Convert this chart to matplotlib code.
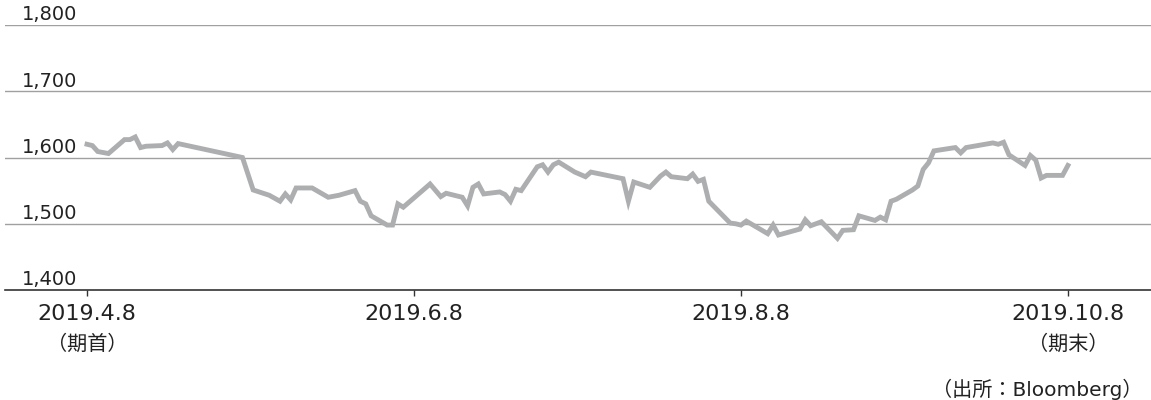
import matplotlib
matplotlib.use('Agg')
import matplotlib.pyplot as plt
import matplotlib.dates as mdates
import pandas as pd

plt.rcParams['font.family'] = ['DejaVu Sans', 'Noto Sans CJK JP']

# price line (turning points only)
dates = [
    '2019-04-08', '2019-04-09', '2019-04-10', '2019-04-12', '2019-04-15', '2019-04-16',
    '2019-04-17', '2019-04-18', '2019-04-19', '2019-04-22', '2019-04-23', '2019-04-24',
    '2019-04-25', '2019-05-07', '2019-05-09', '2019-05-12', '2019-05-14', '2019-05-15',
    '2019-05-16', '2019-05-17', '2019-05-20', '2019-05-23', '2019-05-25', '2019-05-28',
    '2019-05-29', '2019-05-30', '2019-05-31', '2019-06-03', '2019-06-04', '2019-06-05',
    '2019-06-06', '2019-06-11', '2019-06-13', '2019-06-14', '2019-06-17', '2019-06-18',
    '2019-06-19', '2019-06-20', '2019-06-21', '2019-06-24', '2019-06-25', '2019-06-26',
    '2019-06-27', '2019-06-28', '2019-07-01', '2019-07-02', '2019-07-03', '2019-07-04',
    '2019-07-05', '2019-07-08', '2019-07-10', '2019-07-11', '2019-07-17', '2019-07-18',
    '2019-07-19', '2019-07-22', '2019-07-24', '2019-07-25', '2019-07-26', '2019-07-29',
    '2019-07-30', '2019-07-31', '2019-08-01', '2019-08-02', '2019-08-06', '2019-08-07',
    '2019-08-08', '2019-08-09', '2019-08-13', '2019-08-14', '2019-08-15', '2019-08-19',
    '2019-08-20', '2019-08-21', '2019-08-23', '2019-08-26', '2019-08-27', '2019-08-29',
    '2019-08-30', '2019-09-02', '2019-09-03', '2019-09-04', '2019-09-05', '2019-09-06',
    '2019-09-09', '2019-09-10', '2019-09-11', '2019-09-12', '2019-09-13', '2019-09-17',
    '2019-09-18', '2019-09-19', '2019-09-24', '2019-09-25', '2019-09-26', '2019-09-27',
    '2019-09-30', '2019-10-01', '2019-10-02', '2019-10-03', '2019-10-04', '2019-10-07',
    '2019-10-08',
]
prices = [
    1620, 1618, 1609, 1606, 1627, 1627,
    1631, 1615, 1617, 1618, 1622, 1612,
    1621, 1600, 1551, 1543, 1534, 1545,
    1536, 1554, 1554, 1540, 1543, 1550,
    1534, 1530, 1512, 1498, 1498, 1530,
    1525, 1560, 1541, 1546, 1540, 1527,
    1555, 1560, 1545, 1548, 1544, 1534,
    1552, 1550, 1586, 1589, 1578, 1589,
    1593, 1578, 1571, 1578, 1568, 1534,
    1563, 1555, 1572, 1578, 1571, 1568,
    1575, 1564, 1567, 1534, 1501, 1500,
    1498, 1504, 1485, 1498, 1483, 1492,
    1506, 1497, 1503, 1478, 1490, 1491,
    1512, 1505, 1510, 1506, 1534, 1537,
    1551, 1557, 1582, 1592, 1610, 1615,
    1607, 1615, 1622, 1620, 1623, 1604,
    1588, 1603, 1596, 1569, 1573, 1573,
    1588,
]

tick_dates = ['2019-04-08', '2019-06-08', '2019-08-08', '2019-10-08']
tick_labels = ['2019.4.8', '2019.6.8', '2019.8.8', '2019.10.8']
tick_notes = ['（期首）', '', '', '（期末）']
y_ticks = [1400, 1500, 1600, 1700, 1800]

x = pd.to_datetime(dates)
xt = pd.to_datetime(tick_dates)

fig = plt.figure(figsize=(11.51, 4.0), dpi=100)
ax = fig.add_axes([5 / 1151, 0.275, 1146 / 1151, 0.6625])

# grid lines
for v in y_ticks[1:]:
    ax.axhline(v, color='#a0a0a0', lw=1.0, zorder=1)

ax.plot(x, prices, color='#adaeb0', lw=3.5, solid_joinstyle='miter', zorder=3)

ax.set_ylim(1400, 1800)
ax.set_xlim(xt[0] - pd.Timedelta(days=15.3), xt[-1] + pd.Timedelta(days=15.5))

for s in ['top', 'right', 'left']:
    ax.spines[s].set_visible(False)
ax.spines['bottom'].set_color('#333333')
ax.spines['bottom'].set_linewidth(1.2)
ax.set_yticks([])

ax.set_xticks(xt)
ax.set_xticklabels(tick_labels, fontsize=16, color='#222222')
ax.tick_params(axis='x', direction='out', length=4, width=1, color='#333333', pad=6)

# y labels sit above the grid lines
for v in y_ticks:
    ax.text(17 / 1146, v + 7, f'{v:,}', transform=ax.get_yaxis_transform(),
            ha='left', va='baseline', fontsize=14, color='#222222')

for d, note in zip(xt, tick_notes):
    if note:
        ax.annotate(note, xy=(mdates.date2num(d), 0), xycoords=('data', 'axes fraction'),
                    xytext=(0, -39), textcoords='offset points', ha='center', va='center',
                    fontsize=14.5, color='#222222')

fig.text(1143 / 1151, 1 - 389 / 400, '（出所：Bloomberg）', ha='right', va='center',
         fontsize=14.5, color='#222222')

fig.savefig('out.png', dpi=100)
